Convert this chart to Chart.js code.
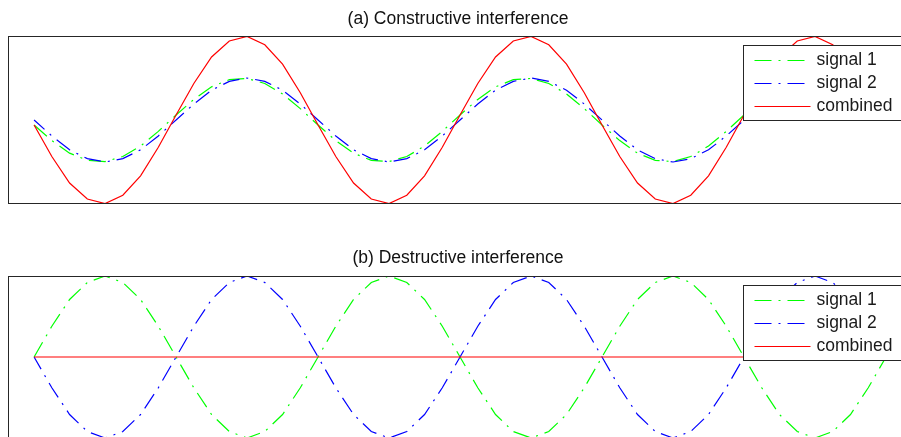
<!DOCTYPE html>
<html>
<head>
<meta charset="utf-8">
<script src="https://cdn.jsdelivr.net/npm/chart.js@4.4.0/dist/chart.umd.min.js"></script>
<style>
  html, body { margin: 0; padding: 0; background: #fff; overflow: hidden; }
  body { width: 901px; height: 437px; position: relative; }
  .panel { position: absolute; left: 0; }
  #chartA { top: 0; }
  #chartB { top: 240px; }
</style>
</head>
<body>
<canvas id="chartA" class="panel" width="916" height="206"></canvas>
<canvas id="chartB" class="panel" width="916" height="200"></canvas>
<script>
// sample index along the time axis
const samples = [
  0, 1, 2, 3, 4, 5, 6, 7, 8, 9, 10, 11, 12, 13, 14, 15,
  16, 17, 18, 19, 20, 21, 22, 23, 24, 25, 26, 27, 28, 29, 30, 31,
  32, 33, 34, 35, 36, 37, 38, 39, 40, 41, 42, 43, 44, 45, 46, 47,
  48
];

// (a) constructive -- last visible sample sits behind the legend
const topSignal1 = [
  -0.12, -0.49, -0.79, -0.96, -0.99, -0.87, -0.62, -0.27, 0.12, 0.49, 0.79, 0.96, 0.99, 0.87, 0.62, 0.27,
  -0.12, -0.49, -0.79, -0.96, -0.99, -0.87, -0.62, -0.27, 0.12, 0.49, 0.79, 0.96, 0.99, 0.87, 0.62, 0.27,
  -0.12, -0.49, -0.79, -0.96, -0.99, -0.87, -0.62, -0.27, 0.12, 0.49, 0.79, 0.96, 0.99, 0.87, 0.62, 0.27
];
const topSignal2 = [
  0, -0.38, -0.71, -0.92, -1, -0.92, -0.71, -0.38, 0, 0.38, 0.71, 0.92, 1, 0.92, 0.71, 0.38,
  0, -0.38, -0.71, -0.92, -1, -0.92, -0.71, -0.38, 0, 0.38, 0.71, 0.92, 1, 0.92, 0.71, 0.38,
  0, -0.38, -0.71, -0.92, -1, -0.92, -0.71, -0.38, 0, 0.38, 0.71, 0.92, 1, 0.92, 0.71, 0.38
];
const topCombined = [
  -0.12, -0.87, -1.5, -1.88, -1.99, -1.79, -1.33, -0.65, 0.12, 0.87, 1.5, 1.88, 1.99, 1.79, 1.33, 0.65,
  -0.12, -0.87, -1.5, -1.88, -1.99, -1.79, -1.33, -0.65, 0.12, 0.87, 1.5, 1.88, 1.99, 1.79, 1.33, 0.65,
  -0.12, -0.87, -1.5, -1.88, -1.99, -1.79, -1.33, -0.65, 0.12, 0.87, 1.5, 1.88, 1.99, 1.79, 1.33, 0.65
];

// (b) destructive
const botSignal1 = [
  0, 0.38, 0.71, 0.92, 1, 0.92, 0.71, 0.38, 0, -0.38, -0.71, -0.92, -1, -0.92, -0.71, -0.38,
  0, 0.38, 0.71, 0.92, 1, 0.92, 0.71, 0.38, 0, -0.38, -0.71, -0.92, -1, -0.92, -0.71, -0.38,
  0, 0.38, 0.71, 0.92, 1, 0.92, 0.71, 0.38, 0, -0.38, -0.71, -0.92, -1, -0.92, -0.71, -0.38,
  0
];
const botSignal2 = [
  0, -0.38, -0.71, -0.92, -1, -0.92, -0.71, -0.38, 0, 0.38, 0.71, 0.92, 1, 0.92, 0.71, 0.38,
  0, -0.38, -0.71, -0.92, -1, -0.92, -0.71, -0.38, 0, 0.38, 0.71, 0.92, 1, 0.92, 0.71, 0.38,
  0, -0.38, -0.71, -0.92, -1, -0.92, -0.71, -0.38, 0, 0.38, 0.71, 0.92, 1, 0.92, 0.71, 0.38,
  0
];
const botCombined = [
  0, 0, 0, 0, 0, 0, 0, 0, 0, 0, 0, 0, 0, 0, 0, 0,
  0, 0, 0, 0, 0, 0, 0, 0, 0, 0, 0, 0, 0, 0, 0, 0,
  0, 0, 0, 0, 0, 0, 0, 0, 0, 0, 0, 0, 0, 0, 0, 0,
  0
];

const seriesLabels = ['signal 1', 'signal 2', 'combined'];
const FONT = '"Liberation Sans", Arial, sans-serif';
const DASH_DOT = [17, 7, 2, 7];

// axes box + boxed legend in the upper right, matlab style
const frameAndLegend = {
    id: 'frameAndLegend',
    afterDatasetsDraw(chart) {
        const { ctx, chartArea: a } = chart;
        ctx.save();
        ctx.setLineDash([]);
        ctx.lineWidth = 1;
        ctx.strokeStyle = '#262626';
        ctx.strokeRect(a.left + 0.5, a.top + 0.5, a.right - a.left - 1, a.bottom - a.top - 1);

        const lx = a.left + 735.5, ly = a.top + 9.5, lw = 200, lh = 75;
        ctx.fillStyle = '#fff';
        ctx.fillRect(lx, ly, lw, lh);
        ctx.strokeRect(lx, ly, lw, lh);

        ctx.font = '17.5px ' + FONT;
        ctx.textBaseline = 'middle';
        chart.data.datasets.forEach((ds, i) => {
            const y = ly + 15 + i * 23;
            ctx.strokeStyle = ds.borderColor;
            ctx.lineWidth = 1.2;
            ctx.setLineDash(ds.borderDash || []);
            ctx.beginPath();
            ctx.moveTo(lx + 11, y);
            ctx.lineTo(lx + 67, y);
            ctx.stroke();
            ctx.fillStyle = '#1a1a1a';
            ctx.fillText(ds.label, lx + 73, y);
        });
        ctx.restore();
    }
};

const toPoints = vals => vals.map((v, i) => ({ x: samples[i], y: v }));

function makePanel(id, title, s1, s2, comb, yMax, titlePad) {
    new Chart(document.getElementById(id), {
        type: 'line',
        data: {
            datasets: [
                { label: seriesLabels[0], data: toPoints(s1), borderColor: '#00ff00', borderDash: DASH_DOT, order: 3 },
                { label: seriesLabels[1], data: toPoints(s2), borderColor: '#0000ff', borderDash: DASH_DOT, borderDashOffset: 3, order: 2 },
                { label: seriesLabels[2], data: toPoints(comb), borderColor: '#ff0000', order: 1 }
            ]
        },
        options: {
            responsive: false,
            animation: false,
            events: [],
            layout: { padding: { left: 8, right: 8, top: 0, bottom: 2 } },
            elements: {
                line: { borderWidth: 1.2, tension: 0, fill: false },
                point: { radius: 0 }
            },
            scales: {
                x: { type: 'linear', display: false, min: -1.47, max: 49.24 },
                y: { display: false, min: -yMax, max: yMax }
            },
            plugins: {
                legend: { display: false },
                tooltip: { enabled: false },
                title: {
                    display: true,
                    text: title,
                    color: '#111',
                    font: { family: FONT, size: 17.5, weight: 'normal', lineHeight: 1.2 },
                    padding: titlePad
                }
            }
        },
        plugins: [frameAndLegend]
    });
}

makePanel('chartA', '(a) Constructive interference', topSignal1, topSignal2, topCombined, 2, { top: 8.5, bottom: 6.5 });
makePanel('chartB', '(b) Destructive interference', botSignal1, botSignal2, botCombined, 1, { top: 7.5, bottom: 7.5 });
</script>
</body>
</html>
